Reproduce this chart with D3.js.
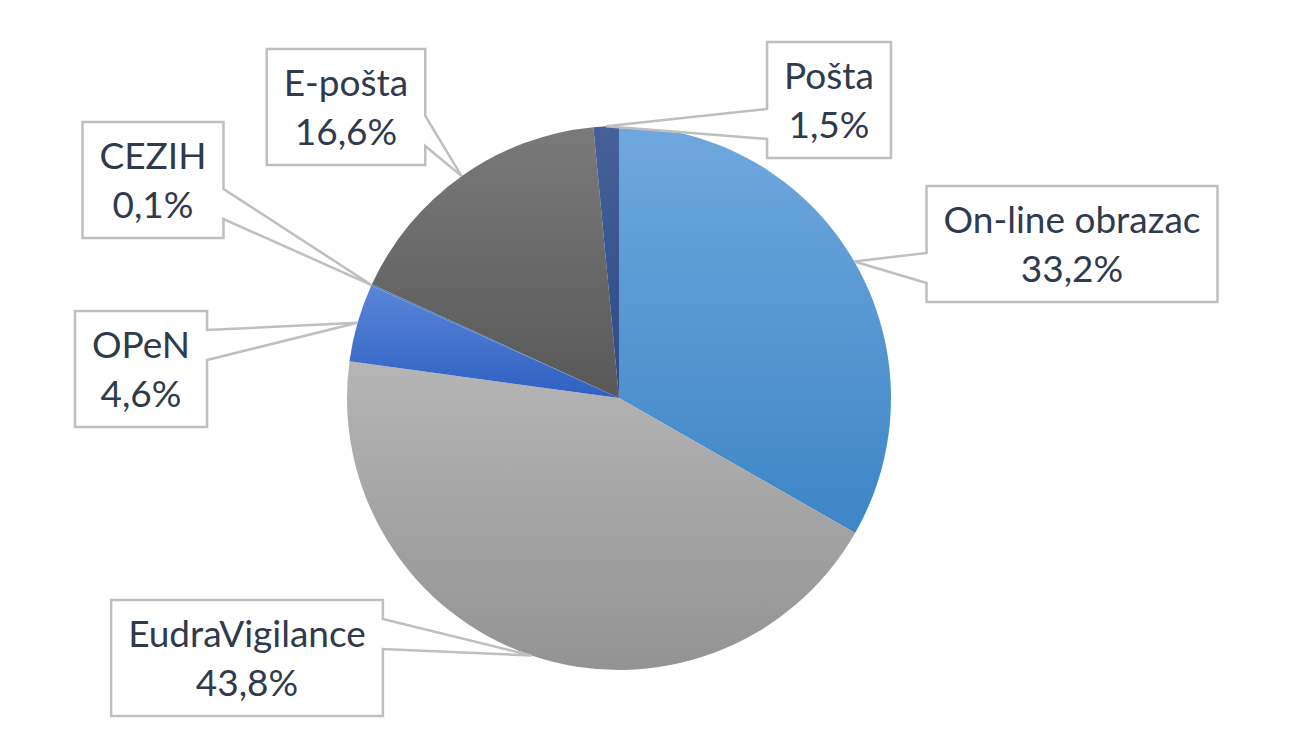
<!DOCTYPE html>
<html>
<head>
<meta charset="utf-8">
<script src="https://cdn.jsdelivr.net/npm/d3@7"></script>
<style>
  html, body { margin: 0; padding: 0; background: #ffffff; }
  svg { display: block; }
  text { font-family: Lato, "Open Sans", sans-serif; }
</style>
</head>
<body>
<svg id="chart" width="1300" height="750"></svg>
<script>
// ---- data ----
const categories = ["On-line obrazac", "EudraVigilance", "OPeN", "CEZIH", "E-pošta", "Pošta"];
const values = [33.2, 43.8, 4.6, 0.1, 16.6, 1.5];
const colorsTop = ["#6fa8de", "#b5b5b5", "#5a86d8", "#4a86c8", "#7a7a7a", "#46609a"];
const colorsBottom = ["#3d85c6", "#939393", "#2f60c2", "#3a6fb0", "#585858", "#2c4a84"];
// ---- layout (label box centres) ----
const labelCenters = [[1072, 244], [247, 658], [141, 369], [153, 180], [346, 107], [829, 100]];

const W = 1300, H = 750;
const cx = 619, cy = 398, R = 272;
const fontSize = 37, lineGap = 49, padX = 17, boxH = 116;
const textColor = "#2f3b4d", lineColor = "#bfbfbf";

const locale = d3.formatLocale({ decimal: ",", thousands: ".", grouping: [3], currency: ["", ""] });
const fmt = v => locale.format(".1f")(v) + "%";

const svg = d3.select("#chart");
const defs = svg.append("defs");
categories.forEach((c, i) => {
  const g = defs.append("linearGradient").attr("id", "grad" + i)
    .attr("x1", 0).attr("y1", 0).attr("x2", 0).attr("y2", 1);
  g.append("stop").attr("offset", "0%").attr("stop-color", colorsTop[i]);
  g.append("stop").attr("offset", "100%").attr("stop-color", colorsBottom[i]);
});

const pie = d3.pie().sort(null).value(d => d).startAngle(0).endAngle(2 * Math.PI);
const arcs = pie(values);
const arc = d3.arc().innerRadius(0).outerRadius(R);

const g = svg.append("g").attr("transform", `translate(${cx},${cy})`);
g.selectAll("path.slice").data(arcs).join("path")
  .attr("class", "slice")
  .attr("d", arc)
  .attr("fill", (d, i) => `url(#grad${i})`);

// ---- callout labels ----
const lg = svg.append("g");
arcs.forEach((d, i) => {
  const a = (d.startAngle + d.endAngle) / 2;
  const tip = [cx + R * Math.sin(a), cy - R * Math.cos(a)];
  const [bx, by] = labelCenters[i];
  const grp = lg.append("g");
  const path = grp.append("path");
  const t1 = grp.append("text").attr("x", bx).attr("y", by - lineGap / 2 + 13)
    .attr("text-anchor", "middle").attr("font-size", fontSize).attr("fill", textColor)
    .text(categories[i]);
  const t2 = grp.append("text").attr("x", bx).attr("y", by + lineGap / 2 + 13)
    .attr("text-anchor", "middle").attr("font-size", fontSize).attr("fill", textColor)
    .text(fmt(values[i]));
  const tw = Math.max(t1.node().getComputedTextLength(), t2.node().getComputedTextLength());
  const w = tw + 2 * padX;
  const L = bx - w / 2, Rr = bx + w / 2, T = by - boxH / 2, B = by + boxH / 2;
  let n1, n2;
  if (tip[1] >= by) { n1 = by + 9; n2 = by + 39; } else { n1 = by - 39; n2 = by - 9; }
  let pts;
  if (tip[0] > Rr) {
    pts = [[L, T], [Rr, T], [Rr, n1], tip, [Rr, n2], [Rr, B], [L, B]];
  } else {
    pts = [[L, T], [Rr, T], [Rr, B], [L, B], [L, n2], tip, [L, n1]];
  }
  path.attr("d", d3.line()(pts) + "Z")
    .attr("fill", "#ffffff").attr("stroke", lineColor).attr("stroke-width", 2.5)
    .attr("stroke-linejoin", "miter");
});
</script>
</body>
</html>
